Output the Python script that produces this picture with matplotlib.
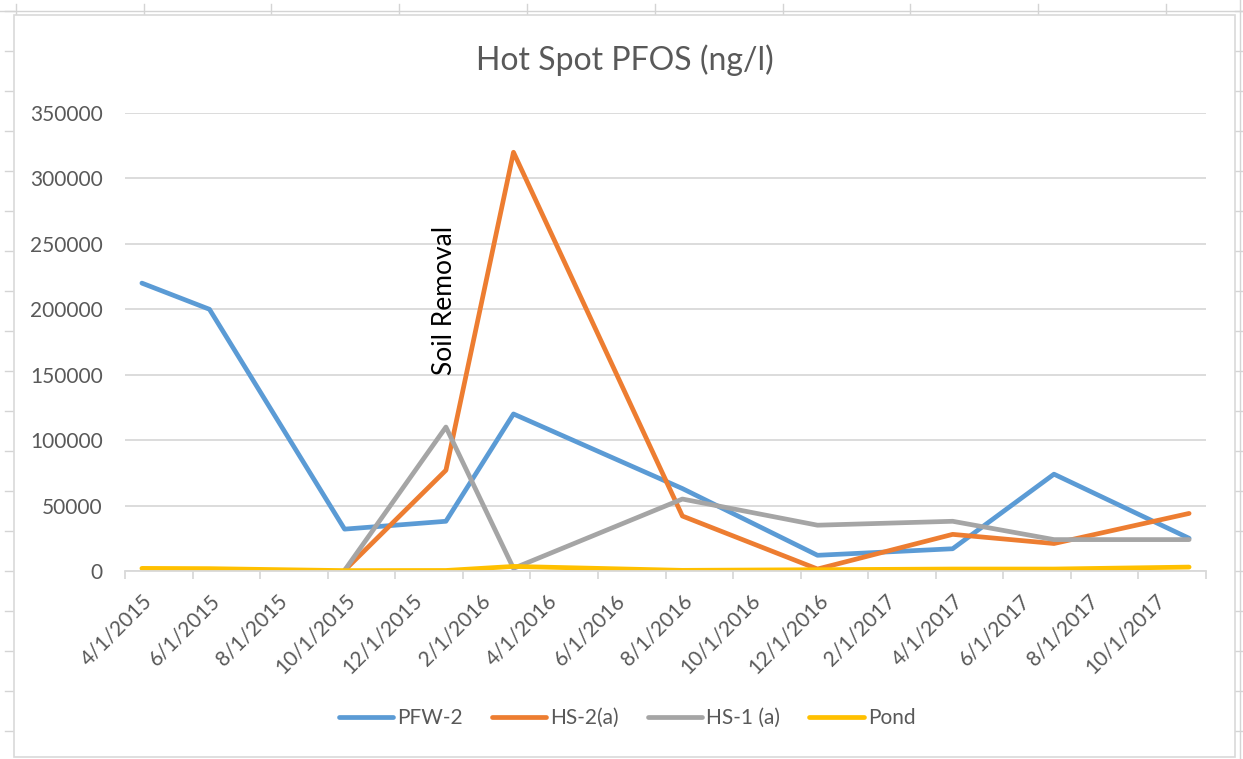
import numpy as np
import matplotlib
matplotlib.use("Agg")
import matplotlib.pyplot as plt
from matplotlib.lines import Line2D
from matplotlib.patches import Rectangle

plt.rcParams['font.family'] = ['Lato', 'DejaVu Sans']

W, H = 1243, 759

# sample dates (plotted by month, Excel date axis with month base unit)
sample_dates = ['4/1/2015', '6/1/2015', '10/1/2015', '1/1/2016', '3/1/2016',
                '8/1/2016', '12/1/2016', '4/1/2017', '7/1/2017', '11/1/2017']
pfw2 = [220000, 200000, 32000, 38000, 120000, 63000, 12000, 17000, 74000, 25000]
hs2a = [np.nan, np.nan, 500, 77000, 320000, 42000, 1500, 28000, 21000, 44000]
hs1a = [np.nan, np.nan, 500, 110000, 2000, 55000, 35000, 38000, 24000, 24000]
pond = [2000, 1800, 300, 400, 3500, 500, 1000, 1500, 1500, 3000]

label_dates = ['4/1/2015', '6/1/2015', '8/1/2015', '10/1/2015', '12/1/2015',
               '2/1/2016', '4/1/2016', '6/1/2016', '8/1/2016', '10/1/2016',
               '12/1/2016', '2/1/2017', '4/1/2017', '6/1/2017', '8/1/2017',
               '10/1/2017']

series = [('PFW-2', pfw2, '#5B9BD5'),
          ('HS-2(a)', hs2a, '#ED7D31'),
          ('HS-1 (a)', hs1a, '#A5A5A5'),
          ('Pond', pond, '#FFC000')]


def month_pos(d):
    m, day, y = (int(v) for v in d.split('/'))
    return (y - 2015) * 12 + (m - 4) + 0.5


def fx(x):
    return x / W


def fy(y):
    return 1 - y / H


x = [month_pos(d) for d in sample_dates]

fig = plt.figure(figsize=(W / 100, H / 100), dpi=100)
fig.patch.set_facecolor('white')

# spreadsheet cells peeking out around the chart
grid_c = '#d4d4d4'
fig.add_artist(Line2D([0, 1], [fy(11), fy(11)], color=grid_c, lw=1, zorder=-3))
for k in range(10):
    cx = 15.8 + 127.8 * k
    fig.add_artist(Line2D([fx(cx), fx(cx)], [fy(4), fy(15)], color=grid_c, lw=1, zorder=-3))
for k in range(19):
    ry = 10.7 + 40 * k
    fig.add_artist(Line2D([fx(5), fx(14)], [fy(ry), fy(ry)], color=grid_c, lw=1, zorder=-3))
    fig.add_artist(Line2D([fx(1235), fx(1243)], [fy(ry), fy(ry)], color=grid_c, lw=1, zorder=-3))
fig.add_artist(Line2D([fx(1240), fx(1240)], [0, 1], color=grid_c, lw=1, zorder=-3))

# chart area
fig.add_artist(Rectangle((fx(14), fy(757)), fx(1235) - fx(14), fy(15) - fy(757),
                         transform=fig.transFigure, facecolor='white',
                         edgecolor='#d9d9d9', lw=1.2, zorder=-1))

ax = fig.add_axes([fx(125), fy(571), fx(1206) - fx(125), fy(113) - fy(571)])
ax.set_facecolor('none')

for name, vals, col in series:
    ax.plot(x, vals, color=col, lw=3.4, label=name,
            solid_joinstyle='round', solid_capstyle='round')

ax.set_xlim(0, 32)
ax.set_ylim(0, 350000)
ax.set_yticks(np.arange(0, 350001, 50000))
ax.set_yticklabels([str(v) for v in range(0, 350001, 50000)])
ax.yaxis.grid(True, color='#d9d9d9', lw=1.3)
ax.set_axisbelow(True)
for s in ['top', 'right', 'left']:
    ax.spines[s].set_visible(False)
ax.spines['bottom'].set_color('#d9d9d9')
ax.spines['bottom'].set_linewidth(1.3)

ax.set_xticks(np.arange(0, 33, 2))
ax.set_xticklabels([])
ax.tick_params(axis='x', which='major', color='#d9d9d9', length=6, width=1.3)
ax.set_xticks([month_pos(d) for d in label_dates], minor=True)
ax.set_xticklabels(label_dates, minor=True, rotation=45, ha='right',
                   rotation_mode='anchor', va='top')
ax.tick_params(axis='x', which='minor', length=0, pad=14,
               labelsize=15, labelcolor='#595959')
ax.tick_params(axis='y', length=0, pad=16, labelsize=15, labelcolor='#595959')

ax.text(9.45, 207000, 'Soil Removal', rotation=90, ha='center', va='center',
        fontsize=19, color='black')

fig.text(fx(625), fy(60), 'Hot Spot PFOS (ng/l)', ha='center', va='center',
         fontsize=23, color='#595959')

fig.legend(loc='center', bbox_to_anchor=(fx(627), fy(718)), ncol=4,
           frameon=False, fontsize=15, labelcolor='#595959',
           handlelength=2.6, handletextpad=0.2, columnspacing=1.4)

fig.savefig('out.png', dpi=100)
